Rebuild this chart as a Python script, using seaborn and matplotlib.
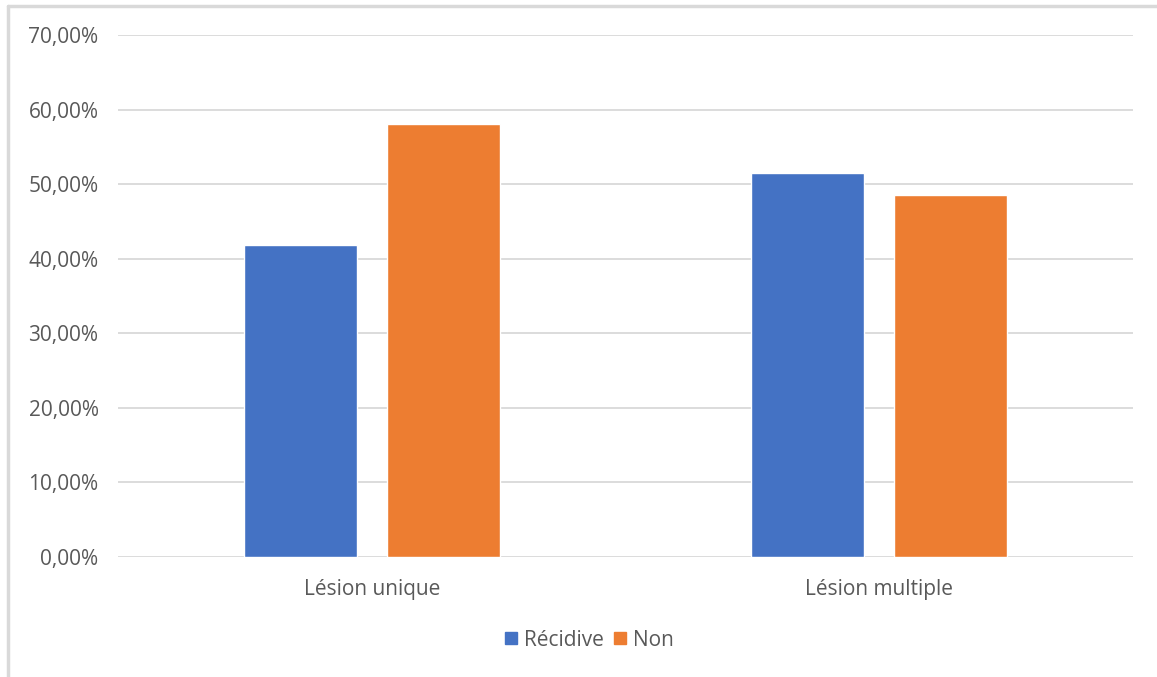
import matplotlib
matplotlib.use("Agg")
import matplotlib.pyplot as plt
import seaborn as sns
import pandas as pd
from matplotlib.ticker import FuncFormatter
from matplotlib.lines import Line2D

categories = ["Lésion unique", "Lésion multiple"]
series_names = ["Récidive", "Non"]
recidive = [0.419, 0.515]
non = [0.581, 0.485]
colors = ["#4472C4", "#ED7D31"]

df = pd.DataFrame({
    "cat": categories * 2,
    "serie": [series_names[0]] * 2 + [series_names[1]] * 2,
    "val": recidive + non,
})

sns.set_theme(style="white")
plt.rcParams["font.family"] = ["Open Sans", "DejaVu Sans"]

fig = plt.figure(figsize=(11.57, 6.77), dpi=100)
ax = fig.add_axes([118 / 1157, 1 - 557 / 677, (1133 - 118) / 1157, (557 - 35) / 677])

sns.barplot(data=df, x="cat", y="val", hue="serie", order=categories,
            hue_order=series_names, palette=colors, width=0.564, gap=0.21,
            saturation=1, ax=ax, legend=False)

ax.set_ylim(0, 0.70)
ax.set_xlim(-0.5, 1.5)
ax.set_yticks([i / 10 for i in range(8)])
ax.yaxis.set_major_formatter(FuncFormatter(lambda v, p: f"{v*100:.2f}%".replace(".", ",")))
ax.set_axisbelow(True)
ax.grid(axis="y", color="#d9d9d9", linewidth=1.3)
ax.grid(axis="x", visible=False)
for s in ax.spines.values():
    s.set_visible(False)
ax.tick_params(axis="both", length=0, colors="#595959", labelsize=15)
ax.tick_params(axis="y", pad=14)
ax.tick_params(axis="x", pad=16)
ax.set_xlabel("")
ax.set_ylabel("")

handles = [Line2D([], [], marker="s", linestyle="", markersize=9, color=c) for c in colors]
leg = fig.legend(handles, series_names, loc="center", bbox_to_anchor=(589 / 1157, 1 - 640 / 677),
                 ncol=2, frameon=False, fontsize=15, handletextpad=0.25, columnspacing=0.45,
                 handlelength=0.7)
for t in leg.get_texts():
    t.set_color("#595959")

# outer chart frame (left and top edges visible)
fig.add_artist(Line2D([8 / 1157, 8 / 1157], [0, 1 - 6 / 677], color="#d9d9d9", lw=2.5,
                      transform=fig.transFigure))
fig.add_artist(Line2D([8 / 1157, 1], [1 - 6 / 677, 1 - 6 / 677], color="#d9d9d9", lw=2.5,
                      transform=fig.transFigure))

fig.savefig("out.png", dpi=100, facecolor="white")
